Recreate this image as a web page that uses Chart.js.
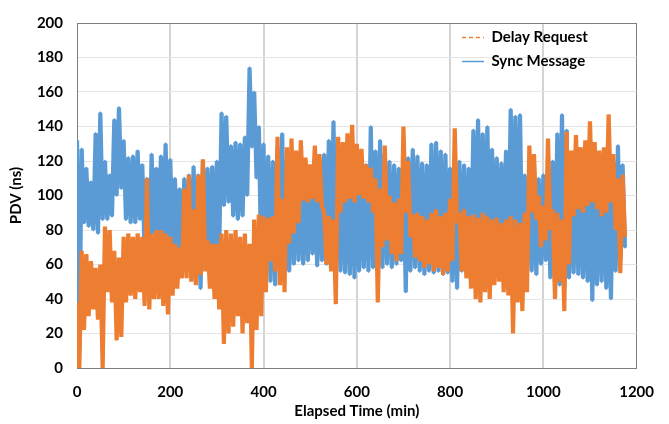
<!DOCTYPE html>
<html>
<head>
<meta charset="utf-8">
<script src="https://cdn.jsdelivr.net/npm/chart.js@4.4.1/dist/chart.umd.min.js"></script>
<style>
  html, body { margin: 0; padding: 0; background: #fff; }
</style>
</head>
<body>
<canvas id="pdv" width="669" height="424"></canvas>
<script>
// sample times (min), one envelope pair every 10 min
const minutes = [
  0, 10, 20, 30, 40, 50, 60, 70, 80, 90,
  100, 110, 120, 130, 140, 150, 160, 170, 180, 190,
  200, 210, 220, 230, 240, 250, 260, 270, 280, 290,
  300, 310, 320, 330, 340, 350, 360, 370, 380, 390,
  400, 410, 420, 430, 440, 450, 460, 470, 480, 490,
  500, 510, 520, 530, 540, 550, 560, 570, 580, 590,
  600, 610, 620, 630, 640, 650, 660, 670, 680, 690,
  700, 710, 720, 730, 740, 750, 760, 770, 780, 790,
  800, 810, 820, 830, 840, 850, 860, 870, 880, 890,
  900, 910, 920, 930, 940, 950, 960, 970, 980, 990,
  1000, 1010, 1020, 1030, 1040, 1050, 1060, 1070, 1080, 1090,
  1100, 1110, 1120, 1130, 1140, 1150, 1160, 1170
];

// Sync Message: upper / lower swing (ns)
const syncHigh = [
  132, 127, 116, 108, 136, 148, 120, 112, 144, 151,
  132, 122, 123, 126, 118, 110, 124, 116, 123, 130,
  121, 110, 104, 110, 112, 117, 112, 120, 116, 117,
  120, 148, 146, 129, 131, 130, 134, 174, 160, 140,
  130, 123, 120, 128, 136, 120, 122, 118, 115, 112,
  114, 116, 120, 124, 132, 143, 126, 124, 122, 120,
  118, 116, 118, 140, 126, 132, 124, 120, 118, 116,
  118, 122, 127, 123, 119, 118, 130, 131, 126, 124,
  116, 118, 120, 118, 116, 138, 144, 136, 140, 127,
  122, 119, 126, 150, 146, 147, 112, 118, 114, 110,
  112, 114, 120, 136, 147, 138, 116, 118, 116, 114,
  116, 118, 115, 117, 114, 120, 129, 118
];
const syncLow = [
  12, 84, 82, 80, 78, 86, 86, 88, 100, 104,
  86, 84, 84, 86, 66, 55, 78, 74, 72, 70,
  68, 64, 60, 56, 52, 50, 46, 60, 64, 62,
  68, 94, 96, 88, 86, 88, 100, 128, 110, 60,
  54, 50, 48, 60, 62, 56, 60, 62, 60, 62,
  66, 59, 62, 60, 58, 57, 56, 55, 54, 52,
  56, 58, 56, 58, 56, 58, 60, 58, 60, 62,
  44, 56, 58, 56, 54, 56, 55, 56, 54, 55,
  50, 46, 56, 58, 60, 62, 64, 62, 60, 62,
  60, 62, 64, 66, 62, 60, 58, 56, 54, 60,
  62, 52, 50, 48, 46, 52, 55, 54, 52, 50,
  39, 48, 50, 46, 40, 56, 62, 70
];

// Delay Request: upper / lower swing (ns)
const delayHigh = [
  38, 68, 66, 62, 58, 60, 82, 80, 68, 64,
  76, 78, 76, 78, 76, 110, 78, 80, 80, 78,
  76, 72, 70, 104, 112, 92, 112, 121, 74, 72,
  72, 78, 80, 78, 80, 76, 78, 72, 86, 89,
  88, 87, 88, 134, 98, 128, 133, 126, 132, 122,
  118, 129, 124, 90, 88, 86, 134, 131, 136, 141,
  130, 127, 118, 116, 110, 104, 129, 100, 96, 98,
  140, 120, 89, 90, 88, 86, 90, 92, 88, 90,
  98, 139, 90, 92, 88, 89, 87, 90, 88, 86,
  87, 84, 86, 88, 86, 84, 90, 129, 124, 100,
  94, 133, 92, 90, 86, 137, 126, 135, 128, 132,
  143, 131, 126, 128, 147, 124, 110, 112
];
const delayLow = [
  0, 22, 30, 34, 28, 0, 44, 38, 16, 18,
  38, 42, 40, 44, 36, 34, 40, 40, 36, 31,
  42, 46, 52, 52, 50, 48, 54, 56, 46, 40,
  34, 14, 20, 24, 30, 20, 26, 0, 22, 30,
  44, 62, 56, 48, 44, 72, 78, 84, 97, 96,
  98, 96, 94, 60, 56, 37, 90, 96, 98, 96,
  100, 98, 96, 90, 38, 70, 74, 66, 62, 66,
  90, 76, 64, 62, 58, 60, 56, 58, 54, 56,
  62, 84, 56, 52, 46, 40, 38, 44, 40, 48,
  50, 44, 42, 20, 38, 33, 44, 90, 86, 70,
  74, 80, 40, 50, 33, 60, 88, 92, 90, 94,
  96, 92, 88, 90, 96, 80, 55, 76
];

const xTicks = [0, 200, 400, 600, 800, 1000, 1200];
const yTicks = [0, 20, 40, 60, 80, 100, 120, 140, 160, 180, 200];

const halfStep = 5;

// each sample swings high then low, like the raw trace
function zigzag(high, low) {
  const pts = [];
  minutes.forEach((m, i) => {
    pts.push({ x: m, y: high[i] });
    pts.push({ x: m + halfStep, y: low[i] });
  });
  return pts;
}

const ORANGE = '#ED7D31';
const BLUE = '#5B9BD5';
const FONT = 'Lato';

// put the legend box inside the plot, top right
const legendSpot = {
  id: 'legendSpot',
  afterLayout(chart) {
    const lg = chart.legend;
    lg.left = 453;
    lg.right = 640;
    lg.top = 21;
    lg.bottom = 95;
  }
};

new Chart(document.getElementById('pdv'), {
  type: 'line',
  data: {
    datasets: [{
      label: 'Delay Request',
      data: zigzag(delayHigh, delayLow),
      borderColor: ORANGE,
      backgroundColor: ORANGE,
      borderWidth: 4.2,
      borderJoinStyle: 'bevel',
      pointRadius: 0,
      tension: 0
    }, {
      label: 'Sync Message',
      data: zigzag(syncHigh, syncLow),
      borderColor: BLUE,
      backgroundColor: BLUE,
      borderWidth: 4.2,
      borderJoinStyle: 'bevel',
      pointRadius: 1.5,
      pointStyle: 'rectRot',
      pointBorderWidth: 0,
      tension: 0
    }]
  },
  options: {
    responsive: false,
    animation: false,
    layout: { padding: { top: 14, right: 31, bottom: 0, left: 0 } },
    scales: {
      x: {
        type: 'linear',
        min: 0,
        max: 1200,
        afterBuildTicks: scale => { scale.ticks = xTicks.map(v => ({ value: v })); },
        afterFit: scale => { scale.height = 56; },
        ticks: {
          padding: 15,
          color: '#000',
          font: { family: FONT, size: 15, weight: 'bold' },
          callback: v => String(v)
        },
        grid: {
          drawTicks: false,
          color: ctx => ctx.tick && ctx.tick.value === 1200 ? '#7f7f7f' : '#d4d4d4',
          lineWidth: ctx => ctx.tick && (ctx.tick.value === 1200 || ctx.tick.value === 0) ? 1 : 2
        },
        border: { color: '#7f7f7f', width: 1 },
        title: {
          display: true,
          text: 'Elapsed Time (min)',
          color: '#000',
          padding: { top: 0, bottom: 4 },
          font: { family: FONT, size: 15, weight: 'bold' }
        }
      },
      y: {
        min: 0,
        max: 200,
        afterBuildTicks: scale => { scale.ticks = yTicks.map(v => ({ value: v })); },
        afterFit: scale => { scale.width = 77; },
        ticks: {
          padding: 14,
          color: '#000',
          font: { family: FONT, size: 15, weight: 'bold' }
        },
        grid: {
          drawTicks: false,
          color: ctx => ctx.tick && ctx.tick.value === 200 ? '#7f7f7f' : '#e4e4e4'
        },
        border: { color: '#7f7f7f', width: 1 },
        title: {
          display: true,
          text: 'PDV (ns)',
          color: '#000',
          padding: { top: 7, bottom: 0 },
          font: { family: FONT, size: 15, weight: 'bold' }
        }
      }
    },
    plugins: {
      tooltip: { enabled: false },
      legend: {
        position: 'chartArea',
        align: 'start',
        labels: {
          usePointStyle: true,
          pointStyleWidth: 22,
          boxHeight: 15,
          padding: 9,
          color: '#000',
          font: { family: FONT, size: 15, weight: 'bold' },
          generateLabels(chart) {
            const items = Chart.defaults.plugins.legend.labels.generateLabels(chart);
            items.forEach(item => {
              item.pointStyle = 'line';
              item.lineWidth = 1.5;
              item.lineDash = item.datasetIndex === 0 ? [4, 3] : [];
            });
            return items;
          }
        }
      }
    }
  },
  plugins: [legendSpot]
});
</script>
</body>
</html>
